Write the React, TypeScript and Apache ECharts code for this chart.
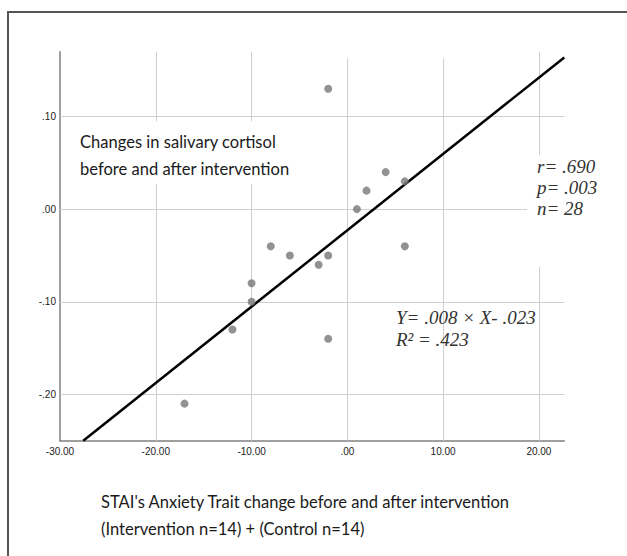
import React, { useEffect, useRef } from "react";
import * as echarts from "echarts";

const xValues = [-2, 1, 2, 4, 6, 6, -2, -3, -2, -8, -6, -10, -10, -12, -17];
const yValues = [0.13, 0.0, 0.02, 0.04, 0.03, -0.04, -0.05, -0.06, -0.14, -0.04, -0.05, -0.08, -0.1, -0.13, -0.21];
const xTicks = [-30, -20, -10, 0, 10, 20];
const yTicks = [-0.2, -0.1, 0, 0.1];
const xRange = [-30, 22.65];
const yRange = [-0.25, 0.17];
const slope = 0.00824;
const intercept = -0.0228;
const statsLines = ["r= .690", "p= .003", "n= 28"];
const equationLines = ["Y= .008 × X- .023", "R² = .423"];
const insideTitle = ["Changes in salivary cortisol", "before and after intervention"];
const xTitle = ["STAI's Anxiety Trait change before and after intervention", "(Intervention n=14) + (Control n=14)"];

const fmt = (v: number) => {
  const s = Number(v).toFixed(2);
  return s.replace(/^(-?)0\./, "$1.");
};

export default function App() {
  const ref = useRef<HTMLDivElement>(null);
  useEffect(() => {
    if (!ref.current) return;
    const chart = echarts.init(ref.current, null, { renderer: "svg" });
    const x0 = (yRange[0] - intercept) / slope;
    const x1 = xRange[1];
    const regLine = [
      [x0, slope * x0 + intercept],
      [x1, slope * x1 + intercept],
    ];
    const sansStyle = { fill: "#1a1a1a", fontSize: 18, fontFamily: "Lato", verticalAlign: "middle", align: "left" };
    const serifStyle = {
      fill: "#333",
      fontSize: 19,
      fontStyle: "italic",
      fontFamily: "Liberation Serif",
      verticalAlign: "middle",
      align: "left",
    };
    chart.setOption({
      animation: false,
      backgroundColor: "#ffffff",
      grid: { left: 60, top: 51.7, right: 627 - 564.3, bottom: 556 - 440.7, containLabel: false },
      xAxis: {
        type: "value",
        min: xRange[0],
        max: xRange[1],
        axisLine: { show: true, onZero: false, lineStyle: { color: "#808080", width: 1.5 } },
        axisTick: { show: false },
        splitLine: { show: false },
        axisLabel: {
          customValues: xTicks,
          formatter: (v: number) => fmt(v),
          color: "#222",
          fontSize: 10,
          fontFamily: "Liberation Sans",
          margin: 6,
        },
      },
      yAxis: {
        type: "value",
        min: yRange[0],
        max: yRange[1],
        axisLine: { show: true, onZero: false, lineStyle: { color: "#808080", width: 1.5 } },
        axisTick: { show: false },
        splitLine: { show: false },
        axisLabel: {
          customValues: yTicks,
          formatter: (v: number) => fmt(v),
          color: "#222",
          fontSize: 10,
          fontFamily: "Liberation Sans",
          margin: 4,
        },
      },
      series: [
        {
          type: "scatter",
          data: xValues.map((x, i) => [x, yValues[i]]),
          symbolSize: 8,
          itemStyle: { color: "#777777" },
          z: 4,
          silent: true,
          markLine: {
            silent: true,
            symbol: "none",
            z: 1,
            label: { show: false },
            lineStyle: { color: "#cfcfcf", width: 1, type: "solid" },
            data: [
              ...xTicks.filter((v) => v !== xRange[0]).map((v) => ({ xAxis: v })),
              ...yTicks.map((v) => ({ yAxis: v })),
            ],
          },
        },
        {
          type: "line",
          data: regLine,
          showSymbol: false,
          symbol: "none",
          lineStyle: { color: "#000", width: 2.5 },
          z: 3,
          silent: true,
        },
      ],
      graphic: [
        { type: "rect", z: 10, shape: { x: 75, y: 121.5, width: 225, height: 62.5 }, style: { fill: "#fff" } },
        { type: "rect", z: 10, shape: { x: 527, y: 155, width: 100, height: 112 }, style: { fill: "#fff" } },
        { type: "rect", z: 10, shape: { x: 300, y: 46, width: 220, height: 12 }, style: { fill: "#fff" } },
        { type: "line", z: 11, shape: { x1: 8, y1: 12, x2: 8, y2: 556 }, style: { stroke: "#555", lineWidth: 2 } },
        { type: "line", z: 11, shape: { x1: 7, y1: 12, x2: 627, y2: 12 }, style: { stroke: "#555", lineWidth: 2 } },
        ...insideTitle.map((t, i) => ({
          type: "text",
          z: 12,
          x: 80,
          y: 141.7 + i * 26.3,
          scaleX: 0.92,
          style: { ...sansStyle, text: t },
        })),
        ...statsLines.map((t, i) => ({
          type: "text",
          z: 12,
          x: 537,
          y: 166.7 + i * 20.8,
          style: { ...serifStyle, text: t },
        })),
        ...equationLines.map((t, i) => ({
          type: "text",
          z: 12,
          x: 396,
          y: 317.3 + i * 21.7,
          style: { ...serifStyle, text: t },
        })),
        ...xTitle.map((t, i) => ({
          type: "text",
          z: 12,
          x: 101,
          y: 501 + i * 27,
          scaleX: 0.92,
          style: { ...sansStyle, text: t },
        })),
      ],
    });
    return () => chart.dispose();
  }, []);
  return <div ref={ref} style={{ position: "absolute", left: 0, top: 0, width: 627, height: 556 }} />;
}
